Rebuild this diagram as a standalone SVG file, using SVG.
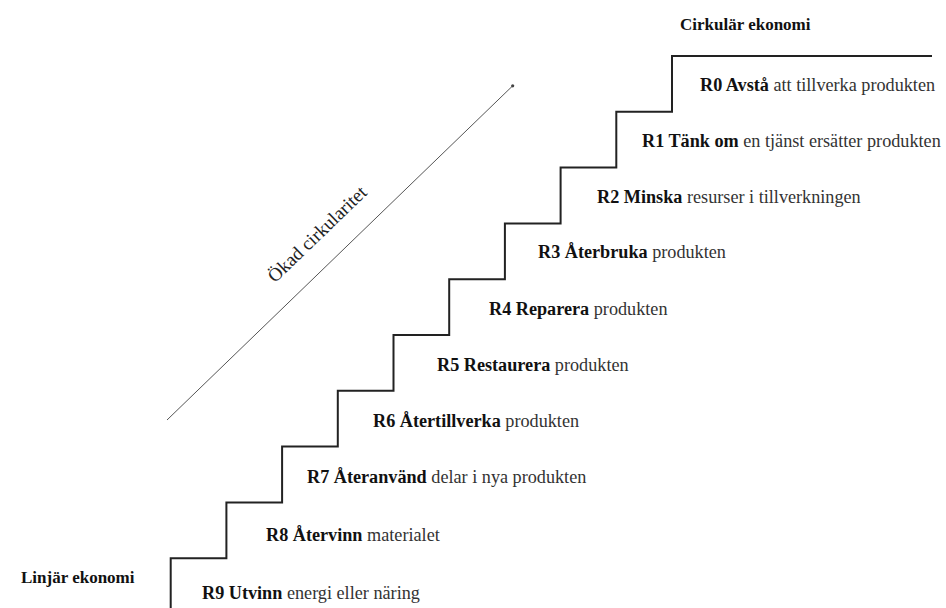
<svg xmlns="http://www.w3.org/2000/svg" width="946" height="608" viewBox="0 0 946 608">
<style>
text{font-family:"Liberation Serif","Times New Roman",serif;fill:#222}
.h{font-size:17px;font-weight:bold;fill:#111}
.t{font-size:18.2px;fill:#333}
.t tspan.b{font-weight:bold;fill:#111}
.stair{fill:none;stroke:#222;stroke-width:2}
.axis{stroke:#555;stroke-width:1}
</style>
<rect width="946" height="608" fill="#fff"/>
<g id="connectors">
<path id="staircase" class="stair" d="M932 56H672V111.8H616.3V167.6H560.6V223.4H504.9V279.2H449.2V335H393.5V390.8H337.8V446.6H282.1V502.4H226.4V558.2H170.7V608"/>
<g id="axis">
<line class="axis" x1="167" y1="420" x2="512.5" y2="86"/>
<circle cx="512.7" cy="85.8" r="1.6" fill="#444"/>
<text x="275" y="283.5" font-size="19" transform="rotate(-44 275 283.5)" fill="#333">Ökad cirkularitet</text>
</g>
</g>
<g id="header-circular"><text class="h" x="680" y="30">Cirkulär ekonomi</text></g>
<g id="header-linear"><text class="h" x="21" y="583">Linjär ekonomi</text></g>
<g id="R0"><text class="t" x="700" y="91"><tspan class="b">R0 Avstå</tspan> att tillverka produkten</text></g>
<g id="R1"><text class="t" x="642" y="147"><tspan class="b">R1 Tänk om</tspan> en tjänst ersätter produkten</text></g>
<g id="R2"><text class="t" x="597" y="203"><tspan class="b">R2 Minska</tspan> resurser i tillverkningen</text></g>
<g id="R3"><text class="t" x="538" y="258"><tspan class="b">R3 Återbruka</tspan> produkten</text></g>
<g id="R4"><text class="t" x="489" y="315"><tspan class="b">R4 Reparera</tspan> produkten</text></g>
<g id="R5"><text class="t" x="437" y="371"><tspan class="b">R5 Restaurera</tspan> produkten</text></g>
<g id="R6"><text class="t" x="373" y="427"><tspan class="b">R6 Återtillverka</tspan> produkten</text></g>
<g id="R7"><text class="t" x="307" y="483"><tspan class="b">R7 Återanvänd</tspan> delar i nya produkten</text></g>
<g id="R8"><text class="t" x="266" y="541"><tspan class="b">R8 Återvinn</tspan> materialet</text></g>
<g id="R9"><text class="t" x="202" y="599"><tspan class="b">R9 Utvinn</tspan> energi eller näring</text></g>
</svg>
